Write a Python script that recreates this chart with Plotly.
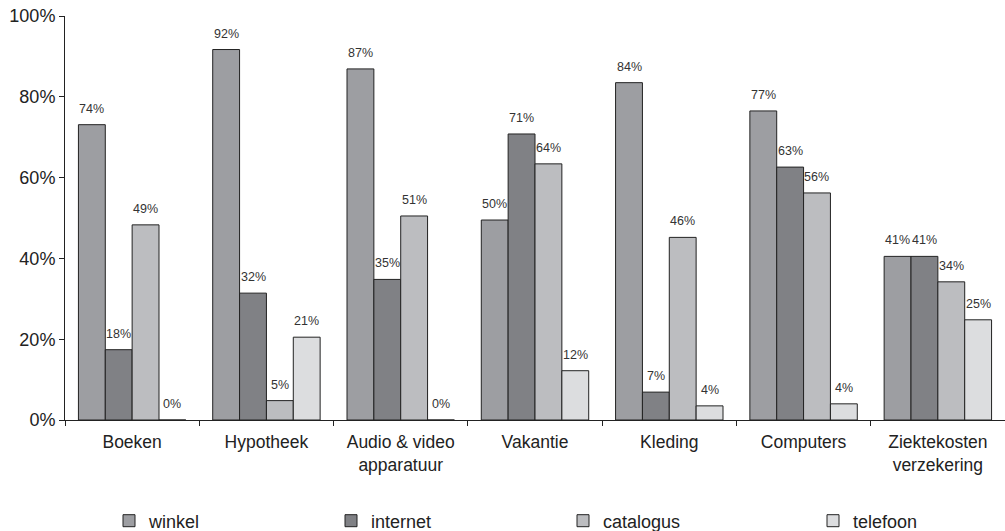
import plotly.graph_objects as go

categories = ["Boeken", "Hypotheek", "Audio & video<br>apparatuur", "Vakantie",
              "Kleding", "Computers", "Ziektekosten<br>verzekering"]
series_names = ["winkel", "internet", "catalogus", "telefoon"]
winkel = [73.1, 91.7, 86.9, 49.5, 83.5, 76.5, 40.5]
internet = [17.4, 31.4, 34.8, 70.8, 6.9, 62.6, 40.5]
catalogus = [48.3, 4.8, 50.5, 63.4, 45.2, 56.2, 34.2]
telefoon = [0.0, 20.5, 0.0, 12.2, 3.5, 4.0, 24.8]
label_winkel = ["74%", "92%", "87%", "50%", "84%", "77%", "41%"]
label_internet = ["18%", "32%", "35%", "71%", "7%", "63%", "41%"]
label_catalogus = ["49%", "5%", "51%", "64%", "46%", "56%", "34%"]
label_telefoon = ["0%", "21%", "0%", "12%", "4%", "4%", "25%"]
y_ticks = [0, 20, 40, 60, 80, 100]
y_tick_labels = ["0%", "20%", "40%", "60%", "80%", "100%"]

values = [winkel, internet, catalogus, telefoon]
labels = [label_winkel, label_internet, label_catalogus, label_telefoon]
colors = ["#9d9ea2", "#808185", "#bcbdc0", "#dcdddf"]
legend_ids = ["legend", "legend2", "legend3", "legend4"]
legend_left_px = [109, 331, 563, 813]

W, H = 1005, 531
margin = dict(l=65, r=0, t=16, b=111, autoexpand=False)
bargap = 0.2

fig = go.Figure()
for name, vals, col, lid in zip(series_names, values, colors, legend_ids):
    fig.add_trace(go.Bar(
        name=name, x=categories, y=vals, legend=lid,
        marker=dict(color=col, line=dict(color="#222222", width=1)),
        hoverinfo="skip",
    ))

plot_w = W - margin["l"] - margin["r"]
plot_h = H - margin["t"] - margin["b"]
cat_w = plot_w / len(categories)
bar_w = cat_w * (1 - bargap) / len(series_names)
annotations = []
for i, (vals, labs) in enumerate(zip(values, labels)):
    for j, cat in enumerate(categories):
        annotations.append(dict(
            x=cat, y=vals[j], xref="x", yref="y", text=labs[j],
            showarrow=False, yanchor="bottom", xanchor="center",
            xshift=(i - 1.5) * bar_w, yshift=7,
            font=dict(family="Liberation Sans, Arial", size=12.5, color="#333333"),
        ))

legend_style = dict(orientation="h", xanchor="left", yanchor="middle",
                    y=-(521 - (H - margin["b"])) / plot_h, itemwidth=30,
                    font=dict(size=18, color="#222222"),
                    bgcolor="rgba(0,0,0,0)")
legends = {}
for lid, lx in zip(legend_ids, legend_left_px):
    legends[lid] = dict(legend_style, x=(lx - margin["l"]) / plot_w)

fig.update_layout(
    width=W, height=H,
    margin=margin,
    paper_bgcolor="white", plot_bgcolor="white",
    barmode="group", bargap=bargap, bargroupgap=0,
    font=dict(family="Liberation Sans, Arial", size=18, color="#222222"),
    showlegend=True,
    annotations=annotations,
    **legends,
)
fig.update_xaxes(
    showline=True, linecolor="#222222", linewidth=1,
    ticks="outside", ticklen=5, tickcolor="#222222", tickson="boundaries",
    showgrid=False, tickfont=dict(size=17.5), ticklabelstandoff=6,
)
fig.update_yaxes(
    range=[0, 100], tickvals=y_ticks, ticktext=y_tick_labels,
    showline=True, linecolor="#222222", linewidth=1,
    ticks="outside", ticklen=5, tickcolor="#222222",
    showgrid=False, zeroline=False, tickfont=dict(size=18),
)
fig.write_html("out.html")
